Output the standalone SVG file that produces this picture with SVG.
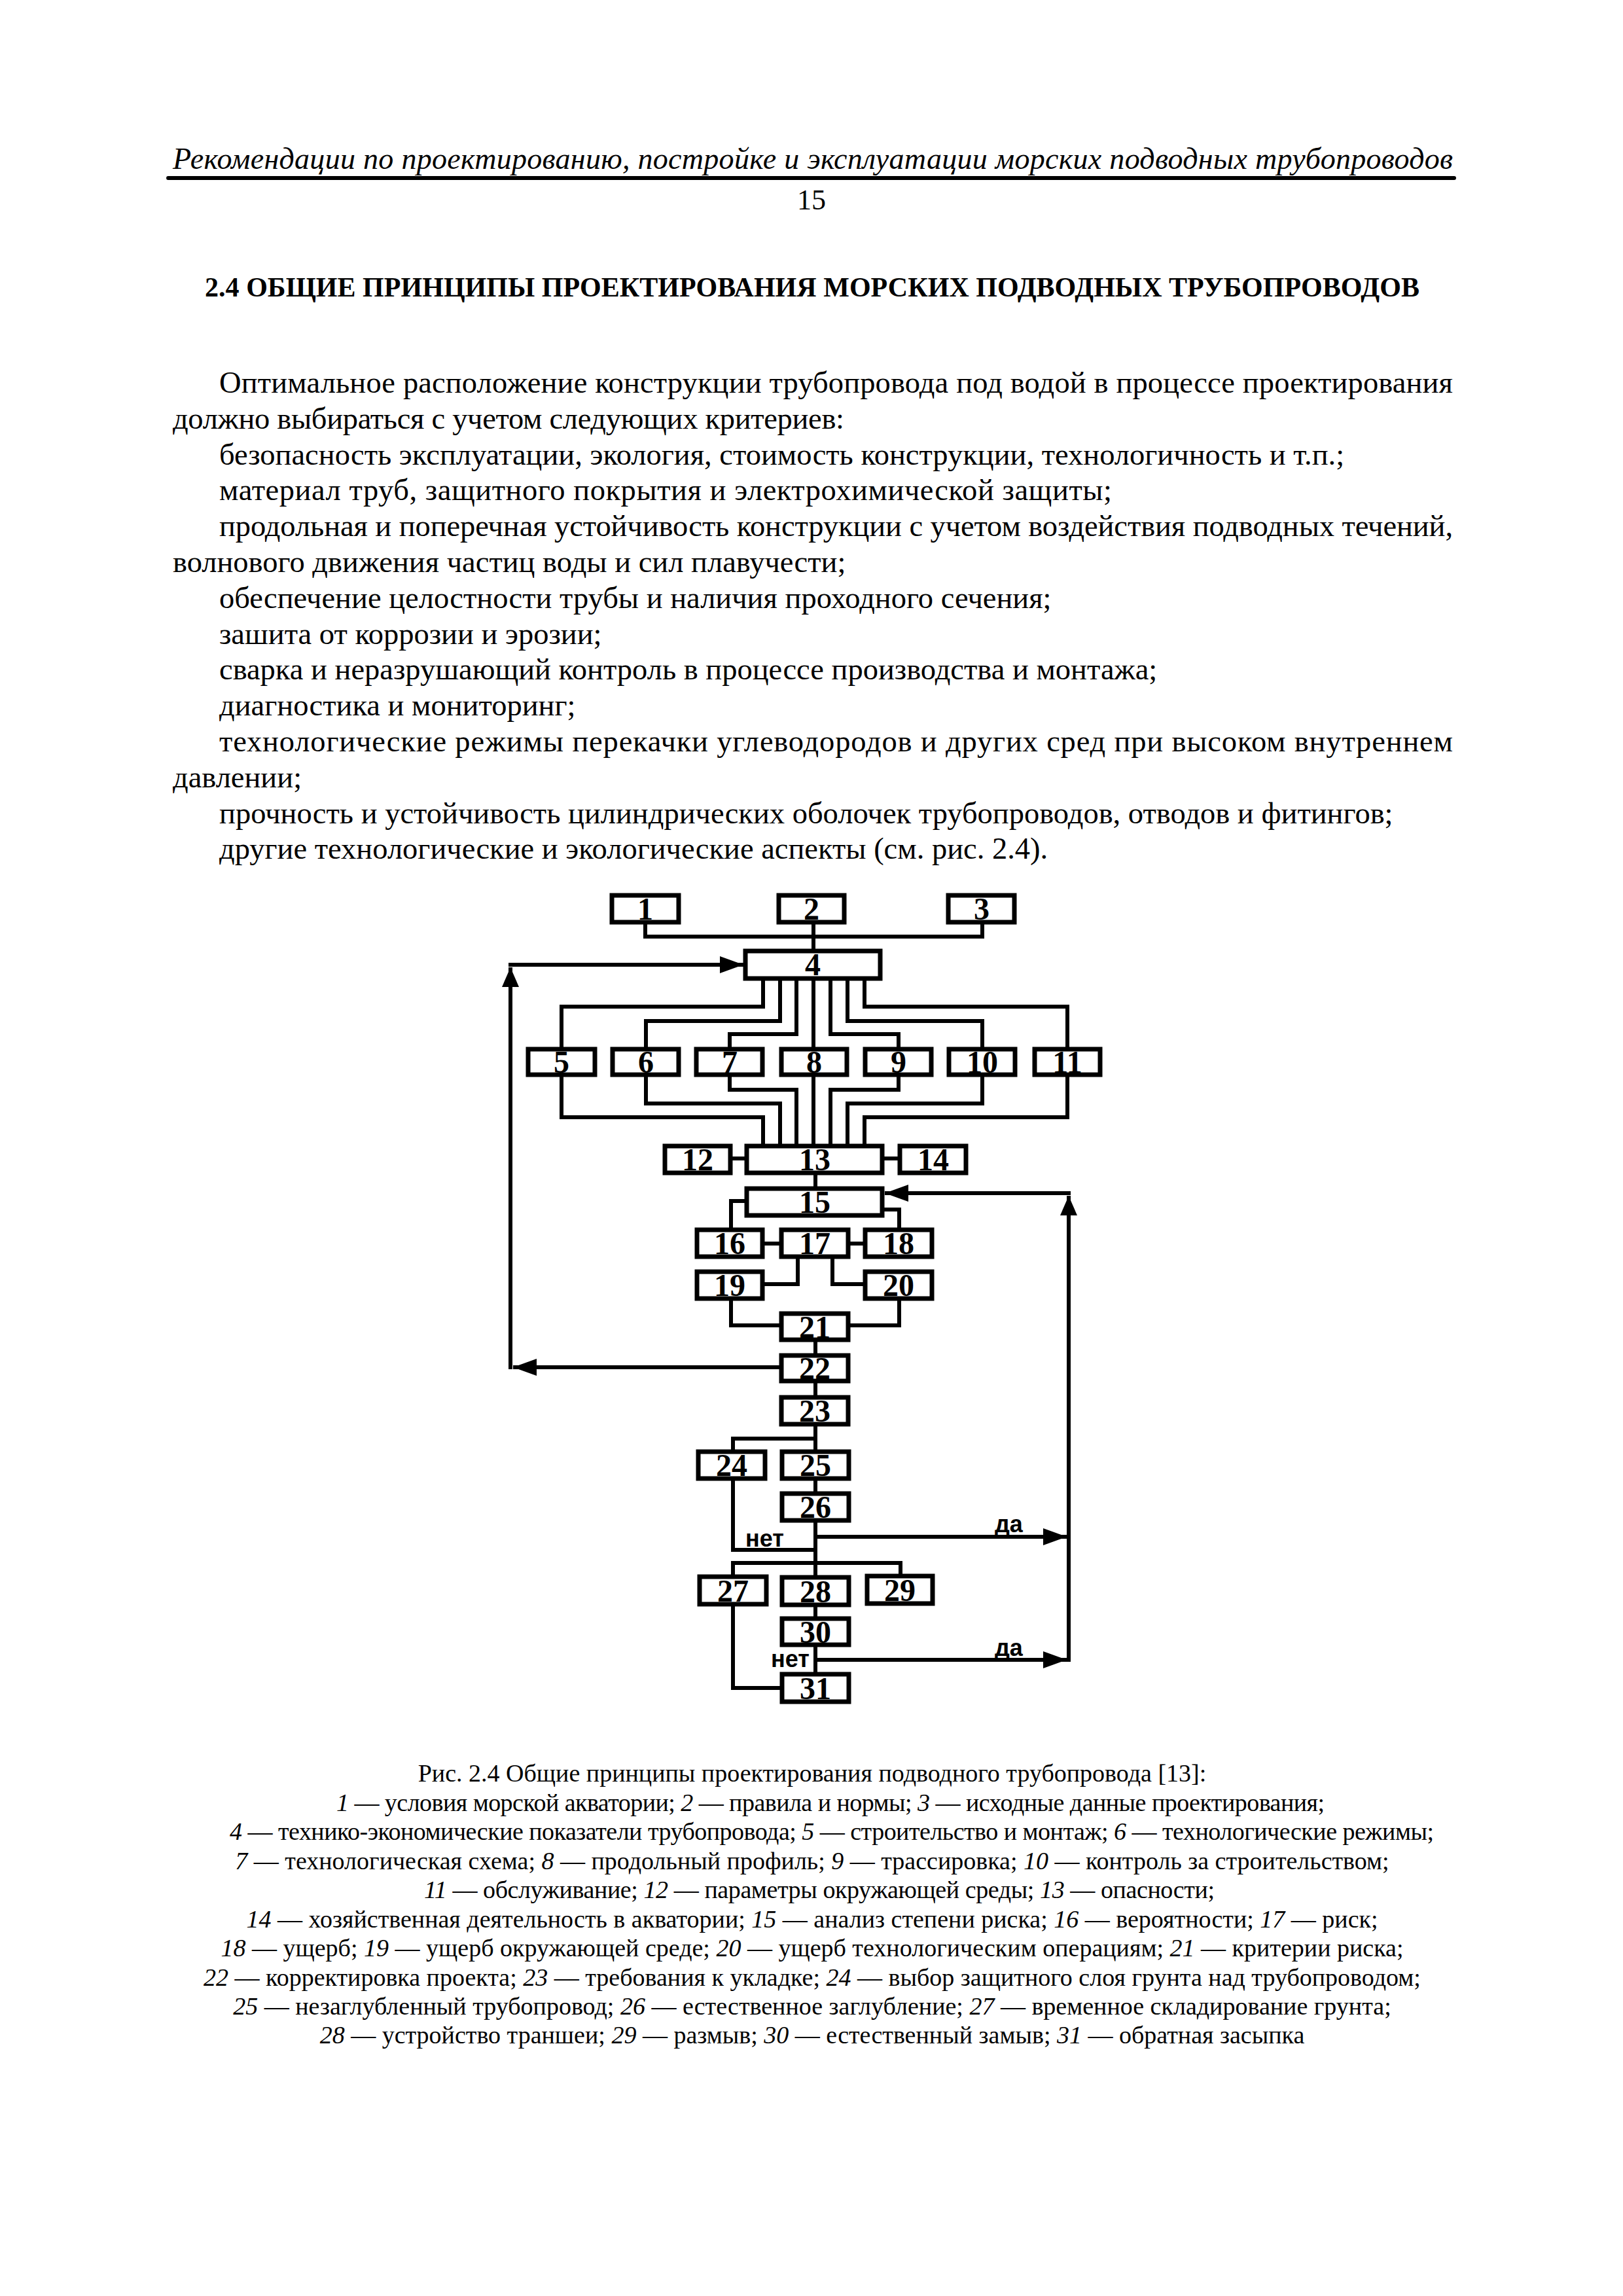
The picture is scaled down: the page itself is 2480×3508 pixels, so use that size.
<svg xmlns="http://www.w3.org/2000/svg" width="2480" height="3508" viewBox="0 0 2480 3508">
<style>
.serif{font-family:"Liberation Serif","Times New Roman",serif;fill:#000}
.body{font-family:"Liberation Serif","Times New Roman",serif;font-size:46.5px;fill:#000}
.cap{font-family:"Liberation Serif","Times New Roman",serif;font-size:38px;fill:#000;text-anchor:middle}
.capl{font-family:"Liberation Serif","Times New Roman",serif;font-size:38px;fill:#000}
.i{font-style:italic}
.box{fill:#fff;stroke:#000;stroke-width:7}
.num{font-family:"Liberation Serif","Times New Roman",serif;font-weight:bold;font-size:48px;text-anchor:middle;fill:#000}
.wire{fill:none;stroke:#000;stroke-width:6;stroke-linejoin:miter;stroke-linecap:square}
.arw{fill:none;stroke:#000;stroke-width:6;stroke-linecap:butt}
.lbl{font-family:"Liberation Sans",Arial,sans-serif;font-weight:bold;font-size:36px;fill:#000}
</style>
<defs>
<marker id="ah" viewBox="0 0 36 26" refX="36" refY="13" markerWidth="36" markerHeight="26" markerUnits="userSpaceOnUse" orient="auto"><path d="M0,0 L36,13 L0,26 z" fill="#000"/></marker>
<marker id="ahs" viewBox="0 0 30 26" refX="30" refY="13" markerWidth="30" markerHeight="26" markerUnits="userSpaceOnUse" orient="auto"><path d="M0,0 L30,13 L0,26 z" fill="#000"/></marker>
</defs>
<rect width="2480" height="3508" fill="#fff"/>

<g id="page-text">
<text class="serif i" x="264" y="258" font-size="46" textLength="1956">Рекомендации по проектированию, постройке и эксплуатации морских подводных трубопроводов</text>
<line x1="257" y1="272" x2="2222" y2="272" stroke="#000" stroke-width="6" stroke-linecap="round"/>
<text class="serif" x="1240" y="320" font-size="44" text-anchor="middle">15</text>
<text class="serif" x="313" y="453" font-size="42" font-weight="bold" textLength="1856">2.4 ОБЩИЕ ПРИНЦИПЫ ПРОЕКТИРОВАНИЯ МОРСКИХ ПОДВОДНЫХ ТРУБОПРОВОДОВ</text>
<text class="body" x="335" y="600" textLength="1885">Оптимальное расположение конструкции трубопровода под водой в процессе проектирования</text>
<text class="body" x="264" y="655" textLength="1026">должно выбираться с учетом следующих критериев:</text>
<text class="body" x="335" y="710">безопасность эксплуатации, экология, стоимость конструкции, технологичность и т.п.;</text>
<text class="body" x="335" y="764" textLength="1364">материал труб, защитного покрытия и электрохимической защиты;</text>
<text class="body" x="335" y="819" textLength="1885">продольная и поперечная устойчивость конструкции с учетом воздействия подводных течений,</text>
<text class="body" x="264" y="874">волнового движения частиц воды и сил плавучести;</text>
<text class="body" x="335" y="929">обеспечение целостности трубы и наличия проходного сечения;</text>
<text class="body" x="335" y="984">зашита от коррозии и эрозии;</text>
<text class="body" x="335" y="1038">сварка и неразрушающий контроль в процессе производства и монтажа;</text>
<text class="body" x="335" y="1093">диагностика и мониторинг;</text>
<text class="body" x="335" y="1148" textLength="1885">технологические режимы перекачки углеводородов и других сред при высоком внутреннем</text>
<text class="body" x="264" y="1203">давлении;</text>
<text class="body" x="335" y="1258">прочность и устойчивость цилиндрических оболочек трубопроводов, отводов и фитингов;</text>
<text class="body" x="335" y="1312">другие технологические и экологические аспекты (см. рис. 2.4).</text>
</g>

<g id="connectors">
<path class="wire" d="M986,1412 V1431 H1501 V1412"/>
<path class="wire" d="M1243,1412 V1450"/>
<path class="wire" d="M1166,1498 V1538 H858 V1600"/>
<path class="wire" d="M1192,1498 V1560 H987 V1600"/>
<path class="wire" d="M1217,1498 V1580 H1115 V1600"/>
<path class="wire" d="M1243,1498 V1600"/>
<path class="wire" d="M1269,1498 V1580 H1373 V1600"/>
<path class="wire" d="M1295,1498 V1560 H1501 V1600"/>
<path class="wire" d="M1321,1498 V1538 H1631 V1600"/>
<path class="wire" d="M858,1645 V1707 H1166 V1748"/>
<path class="wire" d="M987,1645 V1686 H1192 V1748"/>
<path class="wire" d="M1115,1645 V1665 H1217 V1748"/>
<path class="wire" d="M1243,1645 V1748"/>
<path class="wire" d="M1373,1645 V1665 H1269 V1748"/>
<path class="wire" d="M1501,1645 V1686 H1295 V1748"/>
<path class="wire" d="M1631,1645 V1707 H1321 V1748"/>
<path class="wire" d="M1119,1770 H1138"/>
<path class="wire" d="M1351,1770 H1372"/>
<path class="wire" d="M1246,1795 V1813"/>
<path class="wire" d="M1138,1835 H1117 V1876"/>
<path class="wire" d="M1351,1848 H1374 V1876"/>
<path class="wire" d="M1168,1900 H1191"/>
<path class="wire" d="M1299,1900 H1319"/>
<path class="wire" d="M1219,1923 V1962 H1168"/>
<path class="wire" d="M1272,1923 V1962 H1319"/>
<path class="wire" d="M1117,1987 V2025 H1191"/>
<path class="wire" d="M1374,1987 V2025 H1299"/>
<path class="wire" d="M1246,2050 V2068"/>
<path class="wire" d="M1246,2113 V2132"/>
<path class="wire" d="M1246,2179 V2215"/>
<path class="wire" d="M1246,2198 H1120 V2215"/>
<path class="wire" d="M1246,2262 V2279"/>
<path class="wire" d="M1246,2326 V2407"/>
<path class="wire" d="M1120,2262 V2368 H1246"/>
<path class="wire" d="M1120,2406 V2388 H1376 V2405"/>
<path class="wire" d="M1246,2455 V2470"/>
<path class="wire" d="M1246,2516 V2555"/>
<path class="wire" d="M1120,2454 V2579 H1192"/>
<path class="arw" d="M1246,2348 H1630" marker-end="url(#ah)"/>
<path class="arw" d="M1246,2536 H1630" marker-end="url(#ah)"/>
<path class="arw" d="M1633,2539 V1827" marker-end="url(#ahs)"/>
<path class="arw" d="M1636,1823 H1352" marker-end="url(#ah)"/>
<path class="arw" d="M1191,2089 H784" marker-end="url(#ah)"/>
<path class="arw" d="M780,2092 V1478" marker-end="url(#ahs)"/>
<path class="arw" d="M777,1474 H1136" marker-end="url(#ah)"/>
<text class="lbl" x="1139" y="2363">нет</text>
<text class="lbl" x="1520" y="2341">да</text>
<text class="lbl" x="1178" y="2547">нет</text>
<text class="lbl" x="1520" y="2530">да</text>
</g>

<g id="nodes">
<g id="n1"><rect class="box" x="935" y="1368" width="102" height="41"/><text class="num" x="986" y="1405">1</text></g>
<g id="n2"><rect class="box" x="1190" y="1368" width="100" height="41"/><text class="num" x="1240" y="1405">2</text></g>
<g id="n3"><rect class="box" x="1449" y="1368" width="101" height="41"/><text class="num" x="1500" y="1405">3</text></g>
<g id="n4"><rect class="box" x="1139" y="1453" width="206" height="42"/><text class="num" x="1242" y="1490">4</text></g>
<g id="n5"><rect class="box" x="807" y="1603" width="102" height="39"/><text class="num" x="858" y="1639">5</text></g>
<g id="n6"><rect class="box" x="936" y="1603" width="101" height="39"/><text class="num" x="987" y="1639">6</text></g>
<g id="n7"><rect class="box" x="1064" y="1603" width="101" height="39"/><text class="num" x="1115" y="1639">7</text></g>
<g id="n8"><rect class="box" x="1194" y="1603" width="100" height="39"/><text class="num" x="1244" y="1639">8</text></g>
<g id="n9"><rect class="box" x="1322" y="1603" width="101" height="39"/><text class="num" x="1373" y="1639">9</text></g>
<g id="n10"><rect class="box" x="1450" y="1603" width="101" height="39"/><text class="num" x="1501" y="1639">10</text></g>
<g id="n11"><rect class="box" x="1581" y="1603" width="100" height="39"/><text class="num" x="1631" y="1639">11</text></g>
<g id="n12"><rect class="box" x="1016" y="1751" width="100" height="41"/><text class="num" x="1066" y="1788">12</text></g>
<g id="n13"><rect class="box" x="1141" y="1751" width="207" height="41"/><text class="num" x="1245" y="1788">13</text></g>
<g id="n14"><rect class="box" x="1375" y="1751" width="101" height="41"/><text class="num" x="1426" y="1788">14</text></g>
<g id="n15"><rect class="box" x="1141" y="1816" width="207" height="41"/><text class="num" x="1245" y="1853">15</text></g>
<g id="n16"><rect class="box" x="1065" y="1879" width="100" height="41"/><text class="num" x="1115" y="1916">16</text></g>
<g id="n17"><rect class="box" x="1194" y="1879" width="102" height="41"/><text class="num" x="1245" y="1916">17</text></g>
<g id="n18"><rect class="box" x="1322" y="1879" width="102" height="41"/><text class="num" x="1373" y="1916">18</text></g>
<g id="n19"><rect class="box" x="1065" y="1943" width="100" height="41"/><text class="num" x="1115" y="1980">19</text></g>
<g id="n20"><rect class="box" x="1322" y="1943" width="102" height="41"/><text class="num" x="1373" y="1980">20</text></g>
<g id="n21"><rect class="box" x="1194" y="2007" width="102" height="40"/><text class="num" x="1245" y="2044">21</text></g>
<g id="n22"><rect class="box" x="1194" y="2071" width="102" height="39"/><text class="num" x="1245" y="2107">22</text></g>
<g id="n23"><rect class="box" x="1194" y="2135" width="102" height="41"/><text class="num" x="1245" y="2172">23</text></g>
<g id="n24"><rect class="box" x="1067" y="2218" width="102" height="41"/><text class="num" x="1118" y="2255">24</text></g>
<g id="n25"><rect class="box" x="1195" y="2218" width="102" height="41"/><text class="num" x="1246" y="2255">25</text></g>
<g id="n26"><rect class="box" x="1195" y="2282" width="102" height="41"/><text class="num" x="1246" y="2319">26</text></g>
<g id="n27"><rect class="box" x="1069" y="2409" width="102" height="42"/><text class="num" x="1120" y="2447">27</text></g>
<g id="n28"><rect class="box" x="1195" y="2410" width="102" height="42"/><text class="num" x="1246" y="2448">28</text></g>
<g id="n29"><rect class="box" x="1325" y="2408" width="100" height="42"/><text class="num" x="1375" y="2446">29</text></g>
<g id="n30"><rect class="box" x="1195" y="2473" width="102" height="40"/><text class="num" x="1246" y="2510">30</text></g>
<g id="n31"><rect class="box" x="1195" y="2558" width="102" height="42"/><text class="num" x="1246" y="2596">31</text></g>
</g>

<g id="caption">
<text class="cap" x="1241" y="2722">Рис. 2.4 Общие принципы проектирования подводного трубопровода [13]:</text>
<text class="capl" x="514" y="2767" textLength="1510"><tspan class="i">1</tspan> — условия морской акватории; <tspan class="i">2</tspan> — правила и нормы; <tspan class="i">3</tspan> — исходные данные проектирования;</text>
<text class="capl" x="351" y="2811" textLength="1840"><tspan class="i">4</tspan> — технико-экономические показатели трубопровода; <tspan class="i">5</tspan> — строительство и монтаж; <tspan class="i">6</tspan> — технологические режимы;</text>
<text class="cap" x="1241" y="2856"><tspan class="i">7</tspan> — технологическая схема; <tspan class="i">8</tspan> — продольный профиль; <tspan class="i">9</tspan> — трассировка; <tspan class="i">10</tspan> — контроль за строительством;</text>
<text class="capl" x="648" y="2900" textLength="1208"><tspan class="i">11</tspan> — обслуживание; <tspan class="i">12</tspan> — параметры окружающей среды; <tspan class="i">13</tspan> — опасности;</text>
<text class="cap" x="1241" y="2945"><tspan class="i">14</tspan> — хозяйственная деятельность в акватории; <tspan class="i">15</tspan> — анализ степени риска; <tspan class="i">16</tspan> — вероятности; <tspan class="i">17</tspan> — риск;</text>
<text class="cap" x="1241" y="2989"><tspan class="i">18</tspan> — ущерб; <tspan class="i">19</tspan> — ущерб окружающей среде; <tspan class="i">20</tspan> — ущерб технологическим операциям; <tspan class="i">21</tspan> — критерии риска;</text>
<text class="cap" x="1241" y="3034"><tspan class="i">22</tspan> — корректировка проекта; <tspan class="i">23</tspan> — требования к укладке; <tspan class="i">24</tspan> — выбор защитного слоя грунта над трубопроводом;</text>
<text class="cap" x="1241" y="3078"><tspan class="i">25</tspan> — незаглубленный трубопровод; <tspan class="i">26</tspan> — естественное заглубление; <tspan class="i">27</tspan> — временное складирование грунта;</text>
<text class="cap" x="1241" y="3122"><tspan class="i">28</tspan> — устройство траншеи; <tspan class="i">29</tspan> — размыв; <tspan class="i">30</tspan> — естественный замыв; <tspan class="i">31</tspan> — обратная засыпка</text>
</g>
</svg>
